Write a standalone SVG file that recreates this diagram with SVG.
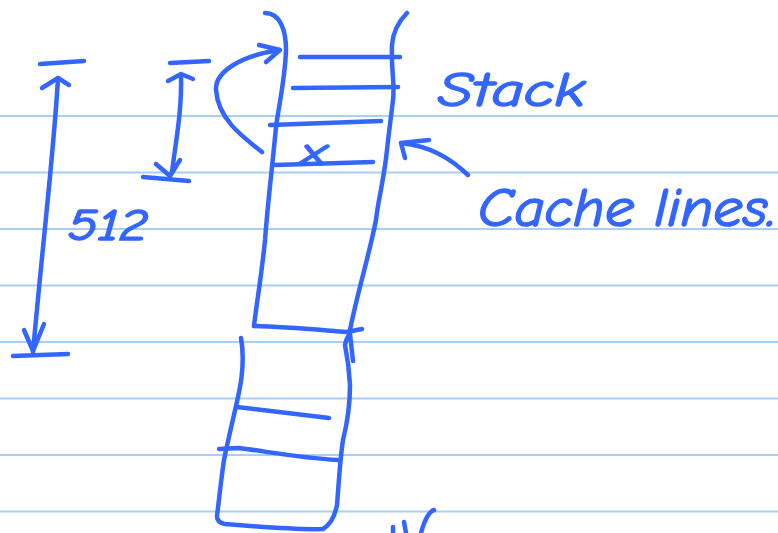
<svg xmlns="http://www.w3.org/2000/svg" width="778" height="533" viewBox="0 0 778 533">
<style>
.rule{stroke:#a8d0f6;stroke-width:2;fill:none}
.ink{stroke:#3366ff;stroke-width:4.5;fill:none;stroke-linecap:round;stroke-linejoin:round}
.txt{fill:#3366ff;stroke:#3366ff;stroke-width:1.6;font-family:"Comic Neue","Open Sans","DejaVu Sans",sans-serif;font-style:italic}
</style>
<rect width="778" height="533" fill="#ffffff"/>
<g id="ruling">
<line class="rule" x1="0" y1="116" x2="778" y2="116"/>
<line class="rule" x1="0" y1="172.5" x2="778" y2="172.5"/>
<line class="rule" x1="0" y1="229" x2="778" y2="229"/>
<line class="rule" x1="0" y1="285.5" x2="778" y2="285.5"/>
<line class="rule" x1="0" y1="342" x2="778" y2="342"/>
<line class="rule" x1="0" y1="398.5" x2="778" y2="398.5"/>
<line class="rule" x1="0" y1="455" x2="778" y2="455"/>
<line class="rule" x1="0" y1="511.5" x2="778" y2="511.5"/>
</g>
<g id="stack-upper">
<path class="ink" d="M265,13 C280,13 286,30 286,50 C285,80 278,110 276,127 C272,170 268,200 265,240 C261,280 257,300 254,326"/>
<path class="ink" d="M407,13 C398,22 393,32 392,45 C391,70 395,85 393,100 C390,125 388,140 387,150 C384,180 378,200 376,220 C368,260 358,290 350,330"/>
<path class="ink" d="M254,326 C290,327 320,330 347,332 C352,331 357,330 362,329"/>
<path class="ink" d="M300,57 L400,57"/>
<path class="ink" d="M293,88 L398,87"/>
<path class="ink" d="M270,125 L381,121"/>
<path class="ink" d="M275,165 L373,162"/>
<text class="txt" x="301" y="165" font-size="40" textLength="25" lengthAdjust="spacingAndGlyphs">x</text>
</g>
<g id="stack-lower">
<path class="ink" d="M241,338 C244,355 243,375 238,397 C233,420 228,440 224,460 C221,480 219,500 217,516 C217,521 220,523 225,524 C260,527 295,530 323,529 C330,525 335,515 337,505 C339,480 340,460 343,440 C348,420 350,400 350,385 C349,365 346,350 345,345 C346,340 348,336 350,334 L353,361"/>
<path class="ink" d="M237,407 L329,418"/>
<path class="ink" d="M219,449 L239,448 C270,452 300,458 338,460"/>
</g>
<g id="dimension-512">
<path class="ink" d="M40,64 L84,61"/>
<path class="ink" d="M42,88 L58,78 L69,85"/>
<path class="ink" d="M58,79 C53,160 44,230 33,352"/>
<path class="ink" d="M24,330 L33,351 L44,324"/>
<path class="ink" d="M13,356 L68,354"/>
<text class="txt" x="68" y="240" font-size="44" textLength="80" lengthAdjust="spacingAndGlyphs">512</text>
</g>
<g id="dimension-line">
<path class="ink" d="M170,63 L209,61"/>
<path class="ink" d="M168,81 L181,74 L193,79"/>
<path class="ink" d="M181,75 C182,110 176,140 172,172"/>
<path class="ink" d="M156,164 L170,176 L180,160"/>
<path class="ink" d="M143,177 L189,181"/>
</g>
<g id="label-stack">
<text class="txt" x="438" y="106" font-size="48" textLength="147" lengthAdjust="spacingAndGlyphs">Stack</text>
</g>
<g id="label-cache">
<text class="txt" x="478" y="226" font-size="54" textLength="298" lengthAdjust="spacingAndGlyphs">Cache lines.</text>
</g>
<g id="connectors">
<path class="ink" d="M262,152 C240,135 218,118 216,90 C215,72 240,56 279,50"/>
<path class="ink" d="M259,45 L280,50 L266,62"/>
<path class="ink" d="M468,175 C450,158 430,146 401,143"/>
<path class="ink" d="M429,140 L401,143 L405,158"/>
</g>
<g id="fragment">
<path class="ink" d="M393,527 L393,533"/>
<path class="ink" d="M404,522 L406,533"/>
<path class="ink" d="M434,510 C428,512 424,522 421,533"/>
</g>
</svg>
